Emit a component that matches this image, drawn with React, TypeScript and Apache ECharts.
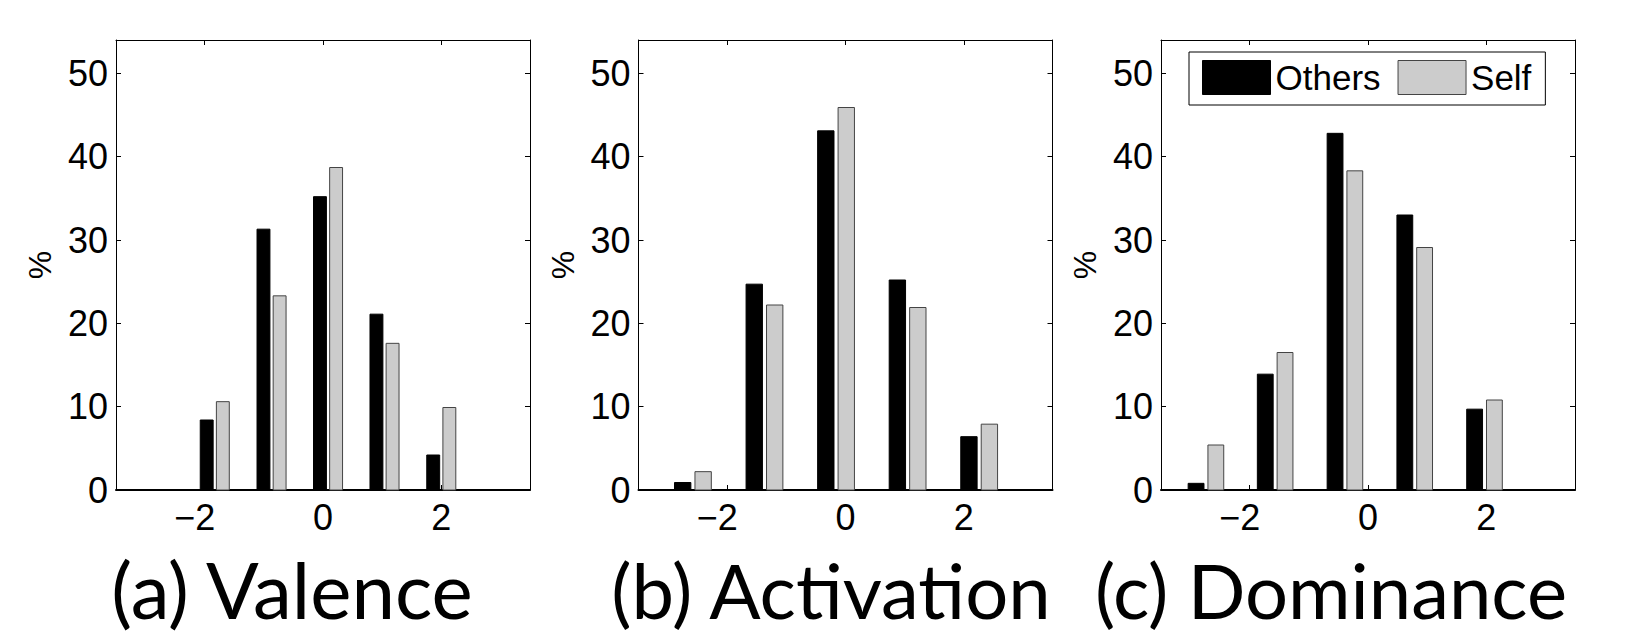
import React, { useEffect, useRef } from 'react';
import * as echarts from 'echarts';

// ---- data ----
const panelTitles = ['(a) Valence', '(b) Activation', '(c) Dominance'];
const seriesNames = ['Others', 'Self'];

const valenceBins = [-1.83, -0.87, 0.085, 1.04, 2.0];
const valenceOthers = [8.4, 31.3, 35.2, 21.1, 4.2];
const valenceSelf = [10.6, 23.3, 38.7, 17.6, 9.9];

const activationBins = [-2.58, -1.37, -0.16, 1.05, 2.26];
const activationOthers = [0.9, 24.7, 43.1, 25.2, 6.4];
const activationSelf = [2.2, 22.2, 45.9, 21.9, 7.9];

const dominanceBins = [-2.74, -1.57, -0.39, 0.79, 1.97];
const dominanceOthers = [0.8, 13.9, 42.8, 33.0, 9.7];
const dominanceSelf = [5.4, 16.5, 38.3, 29.1, 10.8];

const xTickValues = [-2, 0, 2];
const xMin = -3.5;
const xMax = 3.5;
const yMin = 0;
const yMax = 54;
const yInterval = 10;
const yAxisLabel = '%';

const panels = [
  { bins: valenceBins, others: valenceOthers, self: valenceSelf },
  { bins: activationBins, others: activationOthers, self: activationSelf },
  { bins: dominanceBins, others: dominanceOthers, self: dominanceSelf },
];

// ---- layout / style ----
const gridLefts = [116, 638.5, 1161];
const gridTop = 40;
const gridWidth = 414;
const gridHeight = 450;
const titleCenters = [292, 831, 1331];
const titleSizes = [78, 76, 76];
const titleY = 589;
const tickFont = 'Liberation Sans';
const tickSize = 36;
const titleFont = 'Lato';
const colors = ['#000000', '#cccccc'];
const borders = ['#000000', '#444444'];

function minSpacing(bins: number[]) {
  let s = Infinity;
  for (let i = 1; i < bins.length; i++) s = Math.min(s, bins[i] - bins[i - 1]);
  return s;
}

function makeRender(bins: number[], side: number, fill: string, stroke: string) {
  const s = minSpacing(bins);
  const gw = 2 / 3.5; // MATLAB grouped-bar group width
  return (_params: any, api: any) => {
    const x = api.value(0);
    const y = api.value(1);
    const c = x + side * (gw / 4) * s;
    const hw = 0.8 * (gw / 4) * s;
    const p0 = api.coord([c - hw, y]);
    const p1 = api.coord([c + hw, 0]);
    return {
      type: 'rect',
      shape: { x: p0[0], y: p0[1], width: p1[0] - p0[0], height: p1[1] - p0[1] },
      style: { fill, stroke, lineWidth: 1 },
    };
  };
}

export default function App() {
  const ref = useRef<HTMLDivElement>(null);
  useEffect(() => {
    if (!ref.current) return;
    const chart = echarts.init(ref.current, null, { renderer: 'svg' });

    const grid: any[] = [];
    const xAxis: any[] = [];
    const yAxis: any[] = [];
    const series: any[] = [];
    const graphic: any[] = [];

    panels.forEach((p, i) => {
      grid.push({ left: gridLefts[i], top: gridTop, width: gridWidth, height: gridHeight, containLabel: false });
      // bottom x
      xAxis.push({
        gridIndex: i, type: 'value', min: xMin, max: xMax, position: 'bottom',
        axisLine: { show: true, onZero: false, lineStyle: { color: '#000', width: 2 } },
        axisTick: { show: true, inside: true, length: 5, customValues: xTickValues, lineStyle: { color: '#000', width: 1 } },
        axisLabel: {
          customValues: xTickValues, color: '#000', fontSize: tickSize, fontFamily: tickFont, margin: 9,
          formatter: (v: number) => (v < 0 ? '\u2212' + Math.abs(v) + '{s| }' : String(v)),
          rich: { s: { width: 20, fontSize: tickSize, fontFamily: tickFont } },
        },
        splitLine: { show: false },
      });
      // top x
      xAxis.push({
        gridIndex: i, type: 'value', min: xMin, max: xMax, position: 'top',
        axisLine: { show: true, onZero: false, lineStyle: { color: '#000', width: 1 } },
        axisTick: { show: true, inside: true, length: 5, customValues: xTickValues, lineStyle: { color: '#000', width: 1 } },
        axisLabel: { show: false },
        splitLine: { show: false },
      });
      // left y
      yAxis.push({
        gridIndex: i, type: 'value', min: yMin, max: yMax, interval: yInterval, position: 'left',
        axisLine: { show: true, onZero: false, lineStyle: { color: '#000', width: 1 } },
        axisTick: { show: true, inside: true, length: 5, lineStyle: { color: '#000', width: 1 } },
        axisLabel: { color: '#000', fontSize: tickSize, fontFamily: tickFont, margin: 8, showMaxLabel: false },
        splitLine: { show: false },
        name: yAxisLabel, nameLocation: 'middle', nameGap: 60, nameRotate: 90,
        nameTextStyle: { color: '#000', fontSize: 32, fontFamily: tickFont },
      });
      // right y
      yAxis.push({
        gridIndex: i, type: 'value', min: yMin, max: yMax, interval: yInterval, position: 'right',
        axisLine: { show: true, onZero: false, lineStyle: { color: '#000', width: 1 } },
        axisTick: { show: true, inside: true, length: 5, lineStyle: { color: '#000', width: 1 } },
        axisLabel: { show: false },
        splitLine: { show: false },
      });

      const vals = [p.others, p.self];
      vals.forEach((arr, k) => {
        series.push({
          type: 'custom',
          name: seriesNames[k],
          xAxisIndex: i * 2,
          yAxisIndex: i * 2,
          data: p.bins.map((b, j) => [b, arr[j]]),
          encode: { x: 0, y: 1 },
          itemStyle: { color: colors[k], borderColor: borders[k], borderWidth: 1 },
          renderItem: makeRender(p.bins, k === 0 ? -1 : 1, colors[k], borders[k]),
          z: 3,
        });
      });

      graphic.push({
        type: 'text',
        x: titleCenters[i],
        y: titleY,
        style: {
          text: panelTitles[i],
          font: `${titleSizes[i]}px ${titleFont}`,
          fill: '#000',
          textAlign: 'center',
          textVerticalAlign: 'middle',
        },
      });
    });

    chart.setOption({
      animation: false,
      backgroundColor: '#fff',
      grid,
      xAxis,
      yAxis,
      series,
      graphic,
      legend: {
        show: true,
        left: 1189,
        top: 52,
        orient: 'horizontal',
        icon: 'rect',
        itemWidth: 68,
        itemHeight: 34,
        itemGap: 17,
        padding: [8, 14, 10, 13],
        borderColor: '#000',
        borderWidth: 1,
        backgroundColor: '#fff',
        textStyle: { color: '#000', fontSize: 35, fontFamily: tickFont },
        data: [
          { name: 'Others', itemStyle: { color: '#000', borderColor: '#000', borderWidth: 1 } },
          { name: 'Self', itemStyle: { color: '#cccccc', borderColor: '#444', borderWidth: 1 } },
        ],
        selectedMode: false,
      },
    });
    return () => chart.dispose();
  }, []);
  return <div ref={ref} style={{ position: 'absolute', left: 0, top: 0, width: 1637, height: 636 }} />;
}
